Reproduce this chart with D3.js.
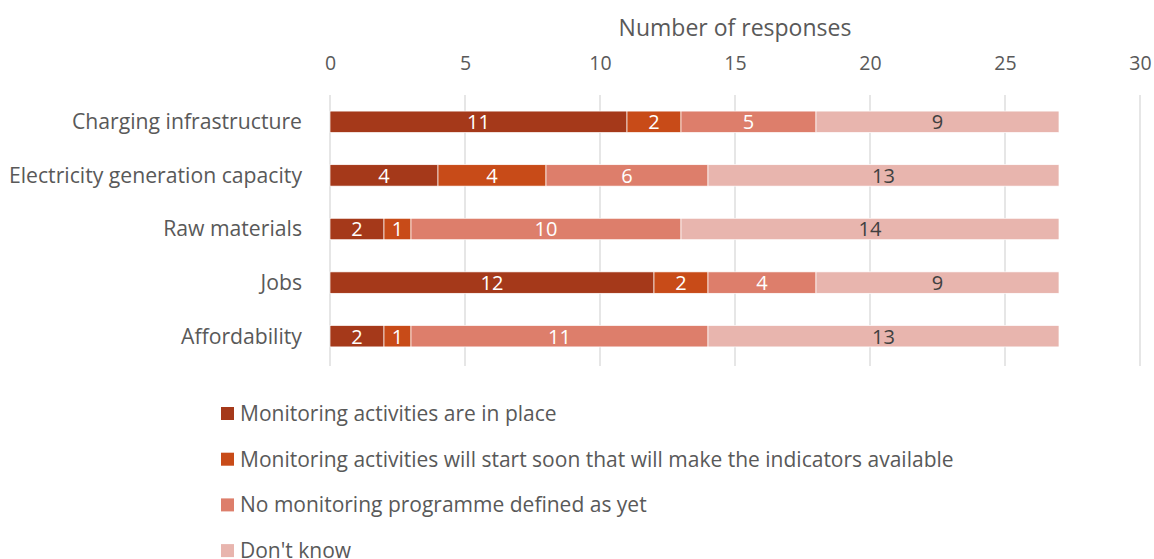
<!DOCTYPE html>
<html>
<head>
<meta charset="utf-8">
<script src="https://cdn.jsdelivr.net/npm/d3@7"></script>
<style>
  body { margin: 0; background: #fff; }
  svg text { font-family: "Open Sans", Lato, sans-serif; fill: #595959; }
</style>
</head>
<body>
<svg id="chart" width="1154" height="559"></svg>
<script>
// Survey indicators and the count of responses per monitoring status
const categories = ["Charging infrastructure", "Electricity generation capacity", "Raw materials", "Jobs", "Affordability"];
const seriesNames = [
  "Monitoring activities are in place",
  "Monitoring activities will start soon that will make the indicators available",
  "No monitoring programme defined as yet",
  "Don't know"
];
const inPlace   = [11, 4, 2, 12, 2];
const startSoon = [2, 4, 1, 2, 1];
const noProgram = [5, 6, 10, 4, 11];
const dontKnow  = [9, 13, 14, 9, 13];
const tickValues = [0, 5, 10, 15, 20, 25, 30];
const colors = ["#A5391A", "#C84B18", "#DD7E6B", "#E8B5AE"];
const labelColors = ["#ffffff", "#ffffff", "#ffffff", "#404040"];

const rows = categories.map((c, i) => ({
  category: c,
  s0: inPlace[i], s1: startSoon[i], s2: noProgram[i], s3: dontKnow[i]
}));
const keys = ["s0", "s1", "s2", "s3"];
const stacked = d3.stack().keys(keys)(rows);

const svg = d3.select("#chart");
const margin = { left: 330, top: 95, plotBottom: 363 };

const x = d3.scaleLinear().domain([0, 30]).range([margin.left, 1140]);
const y = d3.scaleBand().domain(categories).range([margin.top, margin.plotBottom]).paddingInner(0.6).paddingOuter(0.3);

// Vertical gridlines
svg.append("g")
  .selectAll("line")
  .data(tickValues)
  .join("line")
  .attr("x1", d => x(d)).attr("x2", d => x(d))
  .attr("y1", margin.top).attr("y2", 366)
  .attr("stroke", "#d9d9d9").attr("stroke-width", 1.3);

// Top axis tick labels
const axis = svg.append("g")
  .attr("transform", `translate(0,${margin.top})`)
  .call(d3.axisTop(x).tickValues(tickValues).tickSize(0).tickPadding(25));
axis.select(".domain").remove();
axis.selectAll("text")
  .style("font-size", "19.5px")
  .style("font-family", "'Open Sans', sans-serif")
  .attr("fill", "#595959");

// Axis title
svg.append("text")
  .attr("x", (x(0) + x(30)) / 2)
  .attr("y", 36)
  .attr("text-anchor", "middle")
  .style("font-size", "23px")
  .text("Number of responses");

// Category labels
svg.append("g")
  .selectAll("text")
  .data(categories)
  .join("text")
  .attr("x", 302)
  .attr("y", d => y(d) + y.bandwidth() / 2)
  .attr("dy", "0.35em")
  .attr("text-anchor", "end")
  .style("font-size", "21.2px")
  .text(d => d);

// Stacked bar segments
const layers = svg.append("g")
  .selectAll("g")
  .data(stacked)
  .join("g")
  .attr("fill", (d, i) => colors[i]);

layers.selectAll("rect")
  .data(d => d)
  .join("rect")
  .attr("x", d => x(d[0]))
  .attr("y", d => y(d.data.category))
  .attr("width", d => x(d[1]) - x(d[0]))
  .attr("height", y.bandwidth())
  .attr("stroke", "#ffffff")
  .attr("stroke-width", 0.7);

// Value labels inside segments
const labels = svg.append("g");
stacked.forEach((layer, i) => {
  labels.selectAll(null)
    .data(layer)
    .join("text")
    .attr("x", d => (x(d[0]) + x(d[1])) / 2)
    .attr("y", d => y(d.data.category) + y.bandwidth() / 2)
    .attr("dy", "0.37em")
    .attr("text-anchor", "middle")
    .style("font-size", "20px")
    .style("fill", labelColors[i])
    .text(d => d[1] - d[0]);
});

// Legend
const legend = svg.append("g")
  .selectAll("g")
  .data(seriesNames)
  .join("g")
  .attr("transform", (d, i) => `translate(221,${413.5 + i * 45.7})`);
legend.append("rect")
  .attr("x", 0).attr("y", -6.5)
  .attr("width", 13).attr("height", 13)
  .attr("fill", (d, i) => colors[i]);
legend.append("text")
  .attr("x", 19)
  .attr("y", 7.3)
  .style("font-size", "21px")
  .text(d => d);
</script>
</body>
</html>
